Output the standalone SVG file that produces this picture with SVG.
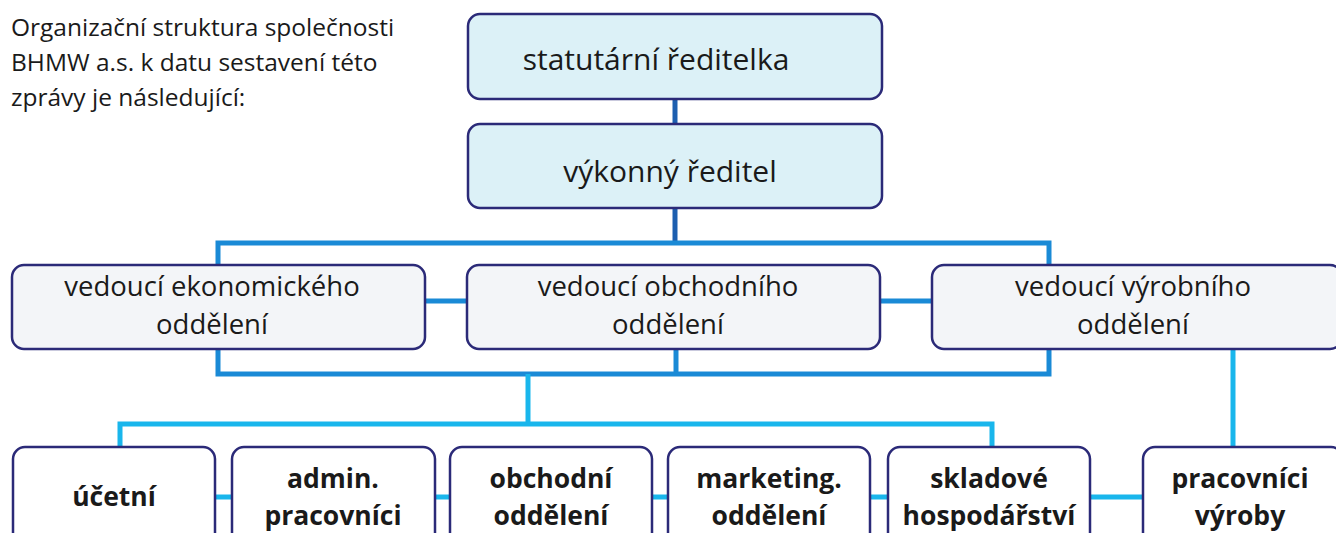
<svg xmlns="http://www.w3.org/2000/svg" width="1336" height="533" viewBox="0 0 1336 533">
<style>
.box{stroke:#2b2a78;stroke-width:2.5}
.top{fill:#dcf1f7}
.mid{fill:#f3f5f8}
.bot{fill:#ffffff}
text{font-family:"Open Sans","Noto Sans",sans-serif;fill:#1a1a1a;text-anchor:middle}
.t1{font-size:30px}
.t2{font-size:27.5px}
.t3{font-size:26.5px;font-weight:bold}
.title{font-size:24.5px;text-anchor:start}
.c1{stroke:#1d5fb0;stroke-width:5;fill:none}
.c2{stroke:#1a8ad6;stroke-width:5;fill:none}
.c3{stroke:#19b6ec;stroke-width:5;fill:none}
</style>
<rect width="1336" height="533" fill="#ffffff"/>
<g id="title">
<text class="title" x="11" y="36">Organizační struktura společnosti</text>
<text class="title" x="11" y="71">BHMW a.s. k datu sestavení této</text>
<text class="title" x="11" y="106">zprávy je následující:</text>
</g>
<g id="connectors">
<line class="c1" x1="675" y1="99" x2="675" y2="124"/>
<line class="c1" x1="675" y1="208" x2="675" y2="243"/>
<rect class="c2" x="218" y="243" width="831" height="131"/>
<line class="c2" x1="425" y1="301" x2="467" y2="301"/>
<line class="c2" x1="880" y1="301" x2="932" y2="301"/>
<line class="c2" x1="676" y1="349" x2="676" y2="374"/>
<line class="c3" x1="528" y1="374" x2="528" y2="424"/>
<path class="c3" d="M120 447 V424 H992 V447"/>
<line class="c3" x1="1233" y1="349" x2="1233" y2="447"/>
<line class="c3" x1="215" y1="497" x2="232" y2="497"/>
<line class="c3" x1="435" y1="497" x2="450" y2="497"/>
<line class="c3" x1="652" y1="497" x2="668" y2="497"/>
<line class="c3" x1="870" y1="497" x2="888" y2="497"/>
<line class="c3" x1="1090" y1="497" x2="1143" y2="497"/>
</g>
<g id="n-statutarni">
<rect class="box top" x="468" y="14" width="414" height="85" rx="12"/>
<text class="t1" x="656" y="70">statutární ředitelka</text>
</g>
<g id="n-vykonny">
<rect class="box top" x="468" y="124" width="414" height="84" rx="12"/>
<text class="t1" x="670" y="182">výkonný ředitel</text>
</g>
<g id="n-ekon">
<rect class="box mid" x="12" y="265" width="413" height="84" rx="12"/>
<text class="t2" x="212" y="296">vedoucí ekonomického</text>
<text class="t2" x="212" y="334">oddělení</text>
</g>
<g id="n-obch">
<rect class="box mid" x="467" y="265" width="413" height="84" rx="12"/>
<text class="t2" x="668" y="296">vedoucí obchodního</text>
<text class="t2" x="668" y="334">oddělení</text>
</g>
<g id="n-vyrob">
<rect class="box mid" x="932" y="265" width="410" height="84" rx="12"/>
<text class="t2" x="1133" y="296">vedoucí výrobního</text>
<text class="t2" x="1133" y="334">oddělení</text>
</g>
<g id="n-ucetni">
<rect class="box bot" x="13" y="447" width="202" height="100" rx="12"/>
<text class="t3" x="114" y="506">účetní</text>
</g>
<g id="n-admin">
<rect class="box bot" x="232" y="447" width="203" height="100" rx="12"/>
<text class="t3" x="333" y="488">admin.</text>
<text class="t3" x="333" y="525">pracovníci</text>
</g>
<g id="n-obchodni">
<rect class="box bot" x="450" y="447" width="202" height="100" rx="12"/>
<text class="t3" x="551" y="488">obchodní</text>
<text class="t3" x="551" y="525">oddělení</text>
</g>
<g id="n-marketing">
<rect class="box bot" x="668" y="447" width="202" height="100" rx="12"/>
<text class="t3" x="769" y="488">marketing.</text>
<text class="t3" x="769" y="525">oddělení</text>
</g>
<g id="n-sklad">
<rect class="box bot" x="888" y="447" width="202" height="100" rx="12"/>
<text class="t3" x="989" y="488">skladové</text>
<text class="t3" x="989" y="525">hospodářství</text>
</g>
<g id="n-pracovnici">
<rect class="box bot" x="1143" y="447" width="200" height="100" rx="12"/>
<text class="t3" x="1240" y="488">pracovníci</text>
<text class="t3" x="1240" y="525">výroby</text>
</g>
</svg>
